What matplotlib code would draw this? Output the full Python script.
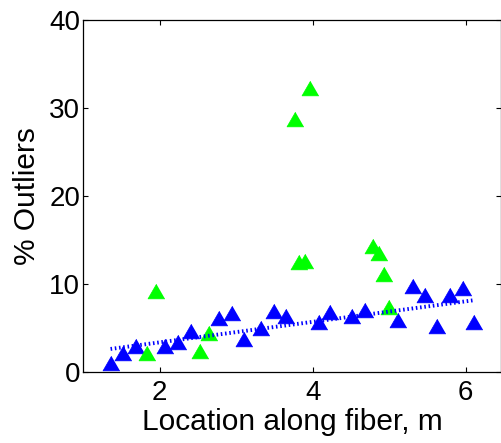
import matplotlib
matplotlib.use("Agg")
import matplotlib.pyplot as plt

# fiber positions (m) and outlier percentages
blue_x = [1.36, 1.52, 1.69, 2.07, 2.24, 2.41, 2.78, 2.95, 3.10, 3.33, 3.49, 3.65,
          4.08, 4.22, 4.52, 4.68, 5.12, 5.31, 5.47, 5.62, 5.79, 5.96, 6.11]
blue_y = [1.06, 2.16, 2.9, 2.9, 3.4, 4.7, 6.1, 6.7, 3.7, 4.96, 6.97, 6.36,
          5.68, 6.86, 6.36, 7.0, 5.9, 9.77, 8.8, 5.27, 8.75, 9.5, 5.68]

green_x = [1.84, 1.95, 2.53, 2.64, 3.77, 3.96, 3.82, 3.90, 4.79, 4.86, 4.93, 5.00]
green_y = [2.16, 9.24, 2.39, 4.47, 28.8, 32.3, 12.5, 12.65, 14.3, 13.5, 11.1, 7.4]

# linear trend through the blue points
trend_x = [1.36, 6.10]
trend_y = [2.62, 8.15]

xticks = [2, 4, 6]
yticks = [0, 10, 20, 30, 40]

plt.rcParams['font.family'] = ['Liberation Sans', 'DejaVu Sans']

fig = plt.figure(figsize=(5.02, 4.43), dpi=100)
ax = fig.add_axes([83 / 502, 1 - 372 / 443, 418 / 502, 352 / 443])

tri = [(0, 0.433), (-0.5, -0.433), (0.5, -0.433)]
ax.plot(blue_x, blue_y, linestyle='none', marker=tri, markersize=12.2,
        color=(0, 0, 1), markeredgewidth=0.5)
ax.plot(green_x, green_y, linestyle='none', marker=tri, markersize=12.2,
        color=(0, 1, 0), markeredgewidth=0.5)
ax.plot(trend_x, trend_y, color=(0, 0, 1), linewidth=2.8, dashes=(0.4, 0.7),
        solid_capstyle='butt')

ax.set_xlim(1, 6.46)
ax.set_ylim(0, 40)
ax.set_xticks(xticks)
ax.set_yticks(yticks)
ax.tick_params(direction='in', length=3.6, width=0.8, top=True, right=True,
               labelsize=20)
ax.tick_params(axis='x', pad=6)
ax.tick_params(axis='y', pad=2)
for sp in ax.spines.values():
    sp.set_linewidth(0.9)

ax.set_xlabel('Location along fiber, m', fontsize=21.5, labelpad=1)
ax.set_ylabel('% Outliers', fontsize=21.5, labelpad=6)

fig.savefig('out.png', dpi=100)
